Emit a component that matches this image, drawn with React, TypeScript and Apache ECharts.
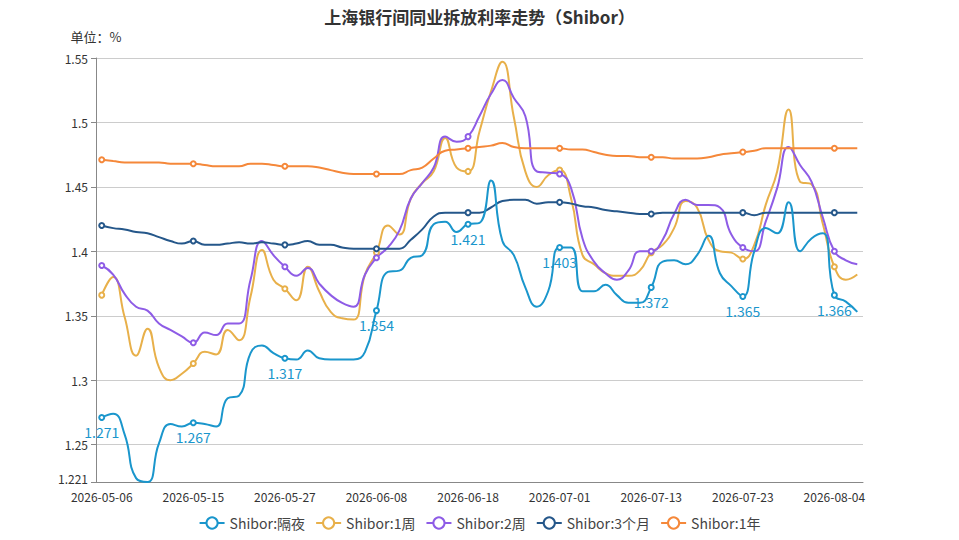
import React, { useEffect, useRef } from 'react';
import * as echarts from 'echarts';

const dates = [
  '2026-05-06', '2026-05-07', '2026-05-08', '2026-05-09', '2026-05-11', '2026-05-12', '2026-05-13', '2026-05-14',
  '2026-05-15', '2026-05-18', '2026-05-19', '2026-05-20', '2026-05-21', '2026-05-22', '2026-05-25', '2026-05-26',
  '2026-05-27', '2026-05-28', '2026-05-29', '2026-06-01', '2026-06-02', '2026-06-03', '2026-06-04', '2026-06-05',
  '2026-06-08', '2026-06-09', '2026-06-10', '2026-06-11', '2026-06-12', '2026-06-15', '2026-06-16', '2026-06-17',
  '2026-06-18', '2026-06-22', '2026-06-23', '2026-06-24', '2026-06-25', '2026-06-26', '2026-06-29', '2026-06-30',
  '2026-07-01', '2026-07-02', '2026-07-03', '2026-07-06', '2026-07-07', '2026-07-08', '2026-07-09', '2026-07-10',
  '2026-07-13', '2026-07-14', '2026-07-15', '2026-07-16', '2026-07-17', '2026-07-20', '2026-07-21', '2026-07-22',
  '2026-07-23', '2026-07-24', '2026-07-27', '2026-07-28', '2026-07-29', '2026-07-30', '2026-07-31', '2026-08-03',
  '2026-08-04', '2026-08-05', '2026-08-06',
];

const overnight = [
  1.271, 1.274, 1.258, 1.224, 1.221, 1.251, 1.266, 1.264, 1.267, 1.266, 1.264, 1.286, 1.288, 1.321, 1.327, 1.321,
  1.317, 1.316, 1.323, 1.317, 1.316, 1.316, 1.316, 1.322, 1.354, 1.384, 1.385, 1.395, 1.397, 1.421, 1.423, 1.415,
  1.421, 1.422, 1.455, 1.408, 1.397, 1.372, 1.357, 1.369, 1.403, 1.403, 1.369, 1.369, 1.374, 1.366, 1.36, 1.36,
  1.372, 1.392, 1.393, 1.39, 1.397, 1.412, 1.383, 1.373, 1.365, 1.4, 1.418, 1.414, 1.438, 1.4, 1.41, 1.414,
  1.366, 1.361, 1.353,
];
const week1 = [
  1.366, 1.38, 1.349, 1.319, 1.34, 1.31, 1.3, 1.305, 1.313, 1.322, 1.32, 1.339, 1.331, 1.365, 1.401, 1.378,
  1.371, 1.362, 1.388, 1.369, 1.353, 1.348, 1.347, 1.382, 1.399, 1.42, 1.413, 1.441, 1.453, 1.462, 1.488, 1.465,
  1.462, 1.493, 1.524, 1.547, 1.504, 1.462, 1.45, 1.459, 1.463, 1.441, 1.397, 1.39, 1.383, 1.381, 1.381, 1.385,
  1.399, 1.405, 1.418, 1.439, 1.434, 1.409, 1.4, 1.399, 1.394, 1.405, 1.436, 1.462, 1.51, 1.454, 1.452, 1.421,
  1.388, 1.378, 1.382,
];
const week2 = [
  1.389, 1.382, 1.367, 1.357, 1.354, 1.344, 1.339, 1.334, 1.329, 1.337, 1.335, 1.344, 1.344, 1.378, 1.408, 1.397,
  1.388, 1.381, 1.387, 1.375, 1.366, 1.36, 1.357, 1.382, 1.395, 1.403, 1.416, 1.441, 1.453, 1.465, 1.489, 1.485,
  1.489, 1.505, 1.522, 1.533, 1.519, 1.505, 1.462, 1.461, 1.46, 1.449, 1.41, 1.392, 1.383, 1.378, 1.385, 1.4,
  1.4, 1.409, 1.429, 1.44, 1.436, 1.436, 1.434, 1.413, 1.403, 1.4, 1.423, 1.449, 1.481, 1.467, 1.454, 1.426,
  1.4, 1.393, 1.39,
];
const month3 = [
  1.42, 1.418, 1.417, 1.415, 1.414, 1.411, 1.408, 1.406, 1.408, 1.405, 1.405, 1.406, 1.407, 1.406, 1.407, 1.406,
  1.405, 1.406, 1.408, 1.405, 1.405, 1.403, 1.402, 1.402, 1.402, 1.402, 1.402, 1.409, 1.417, 1.427, 1.43, 1.43,
  1.43, 1.43, 1.434, 1.439, 1.44, 1.44, 1.437, 1.438, 1.438, 1.437, 1.435, 1.434, 1.432, 1.431, 1.43, 1.429,
  1.429, 1.43, 1.43, 1.43, 1.43, 1.43, 1.43, 1.43, 1.43, 1.428, 1.43, 1.43, 1.43, 1.43, 1.43, 1.43,
  1.43, 1.43, 1.43,
];
const year1 = [
  1.471, 1.47, 1.469, 1.469, 1.469, 1.469, 1.468, 1.468, 1.468, 1.467, 1.466, 1.466, 1.466, 1.468, 1.468, 1.467,
  1.466, 1.466, 1.466, 1.465, 1.463, 1.461, 1.46, 1.46, 1.46, 1.46, 1.46, 1.463, 1.465, 1.472, 1.478, 1.479,
  1.48, 1.481, 1.482, 1.484, 1.481, 1.48, 1.48, 1.48, 1.48, 1.479, 1.479, 1.477, 1.475, 1.474, 1.474, 1.473,
  1.473, 1.473, 1.472, 1.472, 1.472, 1.473, 1.475, 1.476, 1.477, 1.478, 1.48, 1.48, 1.48, 1.48, 1.48, 1.48,
  1.48, 1.48, 1.48,
];

const seriesNames = ['Shibor:隔夜', 'Shibor:1周', 'Shibor:2周', 'Shibor:3个月', 'Shibor:1年'];
const seriesColors = ['#1a96cc', '#e8b04a', '#8e5ce6', '#25578a', '#f5883a'];
const seriesData = [overnight, week1, week2, month3, year1];

const Y_MIN = 1.221;
const Y_MAX = 1.55;

const FONT = '"Microsoft YaHei", "Noto Sans CJK SC", sans-serif';

const App = () => {
  const chartRef = useRef<HTMLDivElement>(null);

  useEffect(() => {
    if (!chartRef.current) return;
    const chart = echarts.init(chartRef.current, null, { renderer: 'svg' });

    const option = {
      animation: false,
      textStyle: { fontFamily: FONT },
      title: {
        text: '上海银行间同业拆放利率走势（Shibor）',
        left: 'center',
        top: 3,
        textStyle: { fontSize: 17, fontWeight: 'bold', color: '#333', fontFamily: FONT },
      },
      legend: {
        data: seriesNames,
        bottom: 5,
        left: 'center',
        itemWidth: 25,
        itemHeight: 14,
        itemGap: 10,
        textStyle: { fontSize: 14, color: '#444', fontFamily: FONT },
      },
      grid: { left: 96, right: 96, top: 58, bottom: 58, containLabel: false },
      xAxis: {
        type: 'category',
        data: dates,
        boundaryGap: true,
        axisLine: { lineStyle: { color: '#888' } },
        axisTick: { interval: 7, lineStyle: { color: '#888' } },
        axisLabel: { interval: 7, margin: 8, color: '#333', fontSize: 12, fontFamily: FONT },
      },
      yAxis: {
        type: 'value',
        min: Y_MIN,
        max: Y_MAX,
        name: '单位：%',
        nameGap: 15,
        nameTextStyle: { color: '#333', fontSize: 13, fontFamily: FONT },
        axisLine: { show: true, lineStyle: { color: '#888' } },
        axisTick: { show: true, lineStyle: { color: '#888' } },
        axisLabel: {
          color: '#333',
          fontSize: 12,
          fontFamily: FONT,
          // the bottom (data-min) label sits just above the date labels
          formatter: (v: number) => (v === Y_MIN ? '{m|' + v + '}' : String(v)),
          rich: { m: { fontSize: 12, color: '#333', padding: [0, 0, 8, 0], fontFamily: FONT } },
        },
        splitLine: { lineStyle: { color: '#ccc' } },
      },
      series: seriesNames.map((name, i) => ({
        name,
        type: 'line',
        data: seriesData[i],
        smooth: true,
        symbol: 'emptyCircle',
        symbolSize: 5,
        showSymbol: true,
        showAllSymbol: false,
        lineStyle: { width: 2, color: seriesColors[i] },
        itemStyle: { color: seriesColors[i], borderWidth: 1 },
        label: i === 0
          ? { show: true, position: 'bottom', distance: 4, color: seriesColors[0], fontSize: 14, fontFamily: FONT }
          : { show: false },
        z: i === 0 ? 5 : 2,
      })),
    };

    chart.setOption(option);

    return () => {
      chart.dispose();
    };
  }, []);

  return (
    <div
      ref={chartRef}
      style={{ position: 'fixed', left: 0, top: 0, width: '959px', height: '540px', background: '#fff' }}
    />
  );
};

export default App;
